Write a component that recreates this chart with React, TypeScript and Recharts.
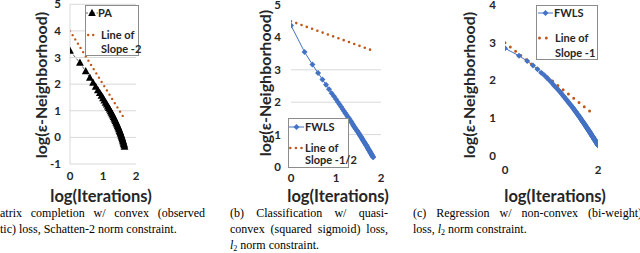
import React from 'react';
import { LineChart, Line, XAxis, YAxis, ReferenceLine } from 'recharts';

// log10 of iteration count (1..100)
const logIterations = [
  0, 0.301, 0.477, 0.602, 0.699, 0.778, 0.845, 0.903, 0.954, 1,
  1.041, 1.079, 1.114, 1.146, 1.176, 1.204, 1.23, 1.255, 1.279, 1.301,
  1.322, 1.342, 1.362, 1.38, 1.398, 1.415, 1.431, 1.447, 1.462, 1.477,
  1.491, 1.505, 1.519, 1.531, 1.544, 1.556, 1.568, 1.58, 1.591, 1.602,
  1.613, 1.623, 1.633, 1.643, 1.653, 1.663, 1.672, 1.681, 1.69, 1.699,
  1.708, 1.716, 1.724, 1.732, 1.74, 1.748, 1.756, 1.763, 1.771, 1.778,
  1.785, 1.792, 1.799, 1.806, 1.813, 1.82, 1.826, 1.833, 1.839, 1.845,
  1.851, 1.857, 1.863, 1.869, 1.875, 1.881, 1.886, 1.892, 1.898, 1.903,
  1.908, 1.914, 1.919, 1.924, 1.929, 1.934, 1.94, 1.944, 1.949, 1.954,
  1.959, 1.964, 1.968, 1.973, 1.978, 1.982, 1.987, 1.991, 1.996, 2,
];

// (a) PA
const paValues = [
  3.25, 2.8, 2.48, 2.24, 2.05, 1.9, 1.77, 1.66, 1.56, 1.47,
  1.38, 1.3, 1.23, 1.16, 1.1, 1.04, 0.98, 0.92, 0.87, 0.82,
  0.76, 0.71, 0.66, 0.61, 0.56, 0.52, 0.47, 0.42, 0.38, 0.33,
  0.29, 0.24, 0.2, 0.15, 0.11, 0.06, 0.02, -0.03, -0.07, -0.12,
  -0.16, -0.21, -0.25, -0.3, -0.36,
];
const slopeAX = [0, 1.6];
const slopeAY = [4, 0.8];

// (b) FWLS
const fwlsBValues = [
  4.37, 3.55, 3.16, 2.9, 2.7, 2.54, 2.4, 2.28, 2.18, 2.09,
  2.01, 1.93, 1.86, 1.79, 1.73, 1.67, 1.62, 1.56, 1.52, 1.47,
  1.43, 1.39, 1.34, 1.3, 1.26, 1.23, 1.19, 1.16, 1.13, 1.1,
  1.07, 1.04, 1.01, 0.98, 0.95, 0.93, 0.9, 0.87, 0.85, 0.82,
  0.8, 0.78, 0.76, 0.73, 0.71, 0.69, 0.67, 0.65, 0.63, 0.6,
  0.58, 0.56, 0.54, 0.52, 0.51, 0.49, 0.47, 0.45, 0.43, 0.42,
  0.4, 0.38, 0.37, 0.35, 0.33, 0.32, 0.3,
];
const slopeBX = [0, 1.8];
const slopeBY = [4.5, 3.6];

// (c) FWLS
const fwlsCValues = [
  2.85, 2.65, 2.51, 2.39, 2.29, 2.2, 2.13, 2.06, 2.0, 1.94,
  1.88, 1.83, 1.79, 1.74, 1.7, 1.66, 1.62, 1.58, 1.55, 1.51,
  1.48, 1.45, 1.42, 1.39, 1.36, 1.34, 1.31, 1.29, 1.26, 1.24,
  1.21, 1.19, 1.17, 1.15, 1.12, 1.1, 1.08, 1.06, 1.04, 1.02,
  1.01, 0.99, 0.97, 0.95, 0.93, 0.92, 0.9, 0.88, 0.87, 0.85,
  0.84, 0.82, 0.81, 0.79, 0.78, 0.76, 0.75, 0.73, 0.72, 0.71,
  0.69, 0.68, 0.67, 0.65, 0.64, 0.63, 0.62, 0.6, 0.59, 0.58,
  0.57, 0.56, 0.54, 0.53, 0.52, 0.51, 0.5, 0.49, 0.48, 0.47,
  0.46, 0.44, 0.43, 0.42, 0.41, 0.41, 0.39, 0.39, 0.38, 0.37,
  0.36, 0.35, 0.34, 0.33, 0.32, 0.31, 0.3, 0.29, 0.28, 0.27,
];
const slopeCX = [0, 1.9];
const slopeCY = [3.0, 1.1];

const yTicksA = [-1, 0, 1, 2, 3, 4, 5];
const yTicksB = [0, 1, 2, 3, 4, 5];
const yTicksC = [0, 1, 2, 3, 4];
const xTicksAB = [0, 1, 2];
const xTicksC = [0, 2];
const gridA = [0, 1, 2, 3, 4, 5];
const gridB = [1, 2, 3];

const toPts = (xs: number[], ys: number[]) => ys.map((y, i) => ({ x: xs[i], y }));
const paData = toPts(logIterations, paValues);
const fwlsBData = toPts(logIterations, fwlsBValues);
const fwlsCData = toPts(logIterations, fwlsCValues);
const slopeAData = toPts(slopeAX, slopeAY);
const slopeBData = toPts(slopeBX, slopeBY);
const slopeCData = toPts(slopeCX, slopeCY);

const BLUE = '#4472C4';
const ORANGE = '#C0581A';
const TEXT = '#262626';
const FONT = 'Lato, "Open Sans", sans-serif';
const tickStyle = { fontSize: 11.5, fontWeight: 700, fill: TEXT, fontFamily: FONT };

const triangleDot = (p: any) => {
  const { cx, cy, index } = p;
  if (cx == null || cy == null) return <g key={`t${index}`} />;
  return (
    <polygon
      key={`t${index}`}
      points={`${cx},${cy - 4.3} ${cx + 3.9},${cy + 2.9} ${cx - 3.9},${cy + 2.9}`}
      fill="#000"
    />
  );
};
const diamondDot = (p: any) => {
  const { cx, cy, index } = p;
  if (cx == null || cy == null) return <g key={`d${index}`} />;
  return (
    <polygon
      key={`d${index}`}
      points={`${cx},${cy - 3} ${cx + 3},${cy} ${cx},${cy + 3} ${cx - 3},${cy}`}
      fill={BLUE}
    />
  );
};

const abs = (left: number, top: number): React.CSSProperties => ({ position: 'absolute', left, top });

const YTitle = ({ x, y }: { x: number; y: number }) => (
  <div
    style={{
      position: 'absolute', left: x, top: y, transform: 'translate(-50%, -50%) rotate(-90deg)',
      whiteSpace: 'nowrap', fontFamily: FONT, fontWeight: 700, fontSize: 16, color: TEXT, lineHeight: '18px',
    }}
  >
    log(ε-Neighborhood)
  </div>
);
const XTitle = ({ x, y }: { x: number; y: number }) => (
  <div
    style={{
      position: 'absolute', left: x, top: y, transform: 'translate(-50%, -50%)',
      whiteSpace: 'nowrap', fontFamily: FONT, fontWeight: 700, fontSize: 16.5, color: TEXT, lineHeight: '18px',
    }}
  >
    log(Iterations)
  </div>
);

const LText = ({ x, y, children }: { x: number; y: number; children: React.ReactNode }) => (
  <div
    style={{
      position: 'absolute', left: x, top: y, transform: 'translateY(-50%)', whiteSpace: 'nowrap',
      fontFamily: FONT, fontWeight: 700, fontSize: 11, color: TEXT, lineHeight: '10px',
    }}
  >
    {children}
  </div>
);

const DottedIcon = ({ x, y, w, sw, gap }: { x: number; y: number; w: number; sw: number; gap: number }) => (
  <svg style={{ position: 'absolute', left: x, top: y - 4 }} width={w} height={8}>
    <line x1={sw / 2} y1={4} x2={w - sw / 2} y2={4} stroke={ORANGE} strokeWidth={sw} strokeDasharray={`0 ${gap}`} strokeLinecap="round" />
  </svg>
);

const capStyle: React.CSSProperties = {
  position: 'absolute', fontFamily: '"Liberation Serif", "Times New Roman", serif', fontSize: 12,
  color: '#000', lineHeight: '14px', whiteSpace: 'nowrap',
};
const justify: React.CSSProperties = { textAlign: 'justify', textAlignLast: 'justify', whiteSpace: 'normal' };
const subStyle: React.CSSProperties = { fontSize: 8, verticalAlign: '-2px' };

export default function App() {
  return (
    <div style={{ position: 'fixed', left: 0, top: 0, width: 640, height: 253, background: '#fff', overflow: 'hidden' }}>
      <style>{'.recharts-surface{overflow:visible}'}</style>
      {/* Panel (a) */}
      <div style={abs(30, 0)}>
        <LineChart width={116} height={194} margin={{ top: 4.3, right: 10, left: 0, bottom: 0 }}>
          <XAxis type="number" dataKey="x" domain={[0, 2]} ticks={xTicksAB} interval={0} height={30}
            tickSize={0} tickMargin={8} tick={tickStyle} axisLine={{ stroke: '#D9D9D9' }} tickLine={false} allowDataOverflow />
          <YAxis type="number" dataKey="y" domain={[-1, 5]} ticks={yTicksA} interval={0} width={40}
            tickSize={0} tickMargin={9} tick={tickStyle} axisLine={{ stroke: '#D9D9D9' }} tickLine={false} allowDataOverflow />
          {gridA.map((v) => (
            <ReferenceLine key={v} y={v} stroke="#D9D9D9" strokeWidth={1} />
          ))}
          <Line data={paData} dataKey="y" stroke="#404040" strokeWidth={0.8} strokeDasharray="3 2"
            dot={triangleDot} activeDot={false} isAnimationActive={false} />
          <Line data={slopeAData} dataKey="y" stroke={ORANGE} strokeWidth={2.4} strokeDasharray="0 5"
            strokeLinecap="round" dot={false} activeDot={false} isAnimationActive={false} />
        </LineChart>
      </div>
      <div style={{ position: 'absolute', left: 85, top: 5, width: 52, height: 49, border: '1px solid #8C8C8C', background: '#fff' }} />
      <svg style={{ position: 'absolute', left: 86, top: 8 }} width={12} height={10}>
        <line x1={0} y1={5} x2={12} y2={5} stroke="#404040" strokeWidth={0.8} strokeDasharray="2 1.5" />
        <polygon points="6,0.8 9.8,8 2.2,8" fill="#000" />
      </svg>
      <LText x={98} y={13}>PA</LText>
      <DottedIcon x={87} y={35} w={12} sw={2.4} gap={5} />
      <LText x={101} y={35}>Line of</LText>
      <LText x={101} y={49}>Slope -2</LText>
      <YTitle x={41} y={85} />
      <XTitle x={101} y={196} />

      {/* Panel (b) */}
      <div style={abs(251, 0)}>
        <LineChart width={140} height={197} margin={{ top: 5, right: 10, left: 0, bottom: 0 }}>
          <XAxis type="number" dataKey="x" domain={[0, 2]} ticks={xTicksAB} interval={0} height={30}
            tickSize={0} tickMargin={7} tick={tickStyle} axisLine={false} tickLine={false} allowDataOverflow />
          <YAxis type="number" dataKey="y" domain={[0, 5]} ticks={yTicksB} interval={0} width={40}
            tickSize={0} tickMargin={10} tick={tickStyle} axisLine={false} tickLine={false} allowDataOverflow />
          {gridB.map((v) => (
            <ReferenceLine key={v} y={v} stroke="#D9D9D9" strokeWidth={1} />
          ))}
          <Line data={fwlsBData} dataKey="y" stroke={BLUE} strokeWidth={1} dot={diamondDot}
            activeDot={false} isAnimationActive={false} />
          <Line data={slopeBData} dataKey="y" stroke={ORANGE} strokeWidth={2.6} strokeDasharray="0 5.6"
            strokeLinecap="round" dot={false} activeDot={false} isAnimationActive={false} />
        </LineChart>
      </div>
      <div style={{ position: 'absolute', left: 288, top: 118, width: 59, height: 48, border: '1px solid #8C8C8C', background: '#fff' }} />
      <svg style={{ position: 'absolute', left: 289, top: 122 }} width={15} height={10}>
        <line x1={0} y1={5} x2={15} y2={5} stroke={BLUE} strokeWidth={1} />
        <polygon points="7.5,2 10.5,5 7.5,8 4.5,5" fill={BLUE} />
      </svg>
      <LText x={305} y={127}>FWLS</LText>
      <DottedIcon x={289} y={148} w={15} sw={2.6} gap={5.6} />
      <LText x={305} y={148}>Line of</LText>
      <LText x={305} y={160}>Slope -1/2</LText>
      <YTitle x={265} y={83} />
      <XTitle x={338} y={196} />

      {/* Panel (c) */}
      <div style={abs(465, 0)}>
        <LineChart width={143} height={185.5} margin={{ top: 5, right: 10, left: 0, bottom: 0 }}>
          <XAxis type="number" dataKey="x" domain={[0, 2]} ticks={xTicksC} interval={0} height={30}
            tickSize={0} tickMargin={10} tick={tickStyle} axisLine={false} tickLine={false} allowDataOverflow />
          <YAxis type="number" dataKey="y" domain={[0, 4]} ticks={yTicksC} interval={0} width={40}
            tickSize={0} tickMargin={9} tick={tickStyle} axisLine={false} tickLine={false} allowDataOverflow />
          <Line data={fwlsCData} dataKey="y" stroke={BLUE} strokeWidth={1} dot={diamondDot}
            activeDot={false} isAnimationActive={false} />
          <Line data={slopeCData} dataKey="y" stroke={ORANGE} strokeWidth={3} strokeDasharray="0 6.8"
            strokeLinecap="round" dot={false} activeDot={false} isAnimationActive={false} />
        </LineChart>
      </div>
      <div style={{ position: 'absolute', left: 536, top: 5, width: 60, height: 53, border: '1px solid #8C8C8C', background: '#fff' }} />
      <svg style={{ position: 'absolute', left: 538, top: 8 }} width={15} height={10}>
        <line x1={0} y1={5} x2={15} y2={5} stroke={BLUE} strokeWidth={1} />
        <polygon points="7.5,2 10.5,5 7.5,8 4.5,5" fill={BLUE} />
      </svg>
      <LText x={554} y={13}>FWLS</LText>
      <DottedIcon x={538} y={38} w={16} sw={3} gap={6.8} />
      <LText x={555} y={38}>Line of</LText>
      <LText x={555} y={53}>Slope -1</LText>
      <YTitle x={469} y={85} />
      <XTitle x={555} y={196} />

      {/* Captions */}
      <div style={{ ...capStyle, ...justify, left: 0, top: 206, width: 205 }}>atrix completion w/ convex (observed</div>
      <div style={{ ...capStyle, left: 0, top: 222 }}>tic) loss, Schatten-2 norm constraint.</div>

      <div style={{ ...capStyle, ...justify, left: 230, top: 206, width: 158 }}>(b) Classification w/ quasi-</div>
      <div style={{ ...capStyle, ...justify, left: 230, top: 222, width: 158 }}>convex (squared sigmoid) loss,</div>
      <div style={{ ...capStyle, left: 230, top: 238 }}><i>l</i><sub style={subStyle}>2</sub> norm constraint.</div>

      <div style={{ ...capStyle, ...justify, left: 413, top: 206, width: 229 }}>(c) Regression w/ non-convex (bi-weight)</div>
      <div style={{ ...capStyle, left: 413, top: 222 }}>loss, <i>l</i><sub style={subStyle}>2</sub> norm constraint.</div>
    </div>
  );
}
